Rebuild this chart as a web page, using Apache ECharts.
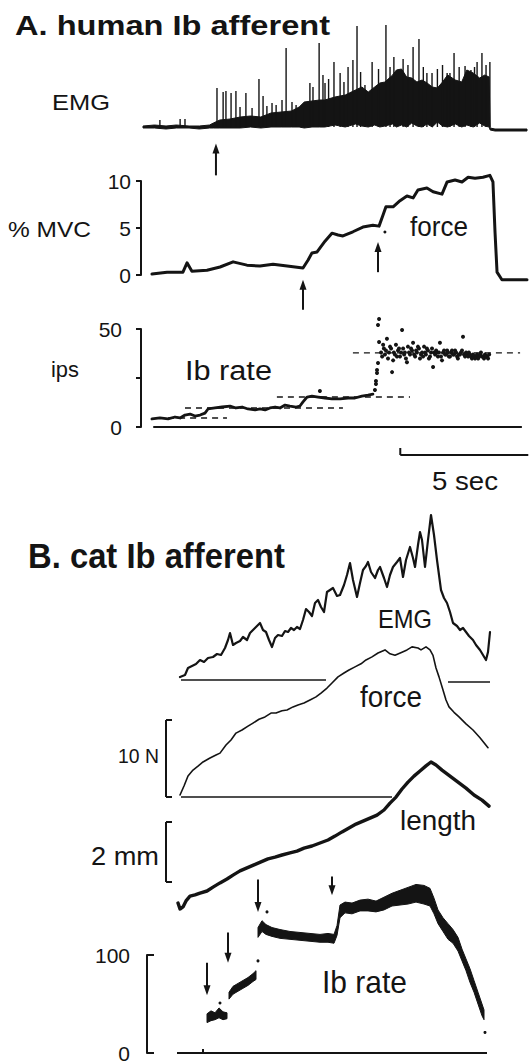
<!DOCTYPE html>
<html><head><meta charset="utf-8">
<script src="https://cdn.jsdelivr.net/npm/echarts@6/dist/echarts.min.js"></script>
<style>html,body{margin:0;padding:0;background:#fff}#c{width:530px;height:1063px}</style>
</head><body><div id="c"></div>
<script>
// ---------------- Panel A: human Ib afferent (time in s) ----------------
// EMG envelope [t, lower, upper] (arbitrary units above baseline)
const emgAEnvelope = [[0,-1,1],[0.45,-1,2],[0.9,-2,1],[1.3,-1,2],[1.8,-1,1],[2.2,-2,1],[2.6,-1,2],[2.75,-1,4],[3.0,-1,7],[3.4,-1,8],[3.8,-1,10],[4.2,0,11],[4.6,-1,10],[5.0,0,14],[5.4,0,15],[5.8,0,16],[6.1,0,20],[6.3,-1,25],[6.6,0,26],[6.9,0,27],[7.1,0,27],[7.5,2,30],[7.9,0,32],[8.3,3,37],[8.55,1,40],[8.8,0,35],[9.05,2,40],[9.25,0,44],[9.45,1,45],[9.75,3,52],[9.9,0,57],[10.1,2,58],[10.3,0,50],[10.5,4,49],[10.7,1,45],[10.9,0,47],[11.1,3,44],[11.3,0,40],[11.5,5,39],[11.7,1,45],[11.9,0,52],[12.2,3,47],[12.45,0,45],[12.65,2,57],[12.9,0,54],[13.15,4,49],[13.35,1,52],[13.52,0,50],[13.56,-3,-1],[13.75,-4,-2],[15.0,-4,-2]];
// EMG spikes [t, peak]
const emgASpikes = [[0.66,7],[1.45,8],[1.64,8],[2.89,39],[3.13,35],[3.24,36],[3.44,34],[3.63,36],[3.79,20],[4.02,34],[4.26,19],[4.53,48],[4.69,31],[4.84,21],[5.04,24],[5.2,22],[5.43,27],[5.59,79],[5.82,25],[5.98,22],[6.25,19],[6.52,44],[6.64,40],[6.88,84],[7.03,52],[7.11,44],[7.25,48],[7.46,65],[7.7,54],[7.85,45],[8.01,60],[8.2,67],[8.36,101],[8.5,55],[8.67,42],[8.95,65],[9.2,58],[9.49,102],[9.65,60],[9.8,70],[10.16,68],[10.35,62],[10.55,80],[10.78,88],[10.95,60],[11.09,54],[11.29,54],[11.5,58],[11.7,62],[11.88,54],[11.99,54],[12.15,74],[12.35,60],[12.58,61],[12.81,57],[12.95,60],[13.05,65],[13.24,74],[13.4,62],[13.55,65]];
// force, % MVC
const forceA = [[0.35,0.1],[0.94,0.3],[1.56,0.3],[1.72,1.3],[1.91,0.4],[2.5,0.5],[3.01,0.85],[3.52,1.4],[4.06,1.05],[4.57,0.95],[5.08,1.15],[5.63,0.95],[6.25,0.75],[6.45,1.6],[6.6,2.35],[6.8,2.45],[7.11,3.6],[7.38,4.45],[7.62,4.25],[7.81,4.15],[8.2,4.6],[8.59,5.1],[8.98,5.3],[9.22,5.2],[9.38,6.4],[9.49,7.25],[9.77,7.25],[10.04,7.9],[10.31,8.4],[10.55,8.2],[10.74,9.05],[11.09,9.25],[11.33,8.85],[11.68,8.6],[11.88,9.9],[12.19,10.1],[12.46,9.9],[12.7,10.4],[12.97,10.3],[13.28,10.4],[13.55,10.6],[13.67,9.9],[13.75,4.6],[13.83,0.3],[14.02,-0.5],[15.0,-0.5]];
const forceAMarks = [[9.45,4.57]];
// arrows [t, tail, tip] in % MVC units
const arrowsA = [[2.85,10.6,14.0],[6.25,-3.7,-0.5],[9.18,0.3,3.5]];
// Ib rate (ips)
const ipsLow = [[0.35,4.1],[0.66,4.6],[0.98,4.1],[1.25,5.1],[1.45,4.6],[1.64,6.1],[1.84,6.6],[2.03,5.6],[2.23,6.1],[2.42,7.1],[2.54,9.2],[2.81,9.7],[3.09,10.2],[3.4,10.7],[3.63,9.7],[3.87,10.2],[4.1,9.2],[4.38,8.7],[4.57,9.2],[4.77,8.7],[4.96,9.7],[5.16,10.2],[5.35,9.7],[5.55,11.2],[5.74,10.7],[5.98,10.2],[6.13,10.7],[6.25,12.8],[6.41,15.3],[6.6,15.8],[6.84,15.3],[7.11,14.8],[7.38,14.3],[7.7,14.3],[8.01,14.8],[8.28,14.8],[8.55,15.8],[8.79,16.3],[8.98,16.8]];
const ipsDots = [[6.91,18.4],[9.06,18.9],[9.1,21.9],[9.1,23.5],[9.14,27.6],[9.14,29.1],[9.18,32.7],[9.22,43.4],[9.18,52],[9.22,55.1],
[9.30,38],[9.34,36],[9.38,42],[9.41,40],[9.45,37],[9.49,39],[9.53,45],[9.57,35],[9.61,38],[9.65,41],[9.69,40],[9.73,28],[9.77,34],[9.8,38],[9.84,37],[9.88,42],[9.92,36],[9.96,39],[10.0,40],[10.04,36],[10.08,38],[10.12,49.5],[10.16,40],[10.2,37],[10.23,38],[10.27,35],[10.31,33],[10.35,41],[10.39,38],[10.43,37],[10.47,40],[10.51,39],[10.55,43],[10.59,37],[10.63,36],[10.67,39],[10.7,38],[10.74,41],[10.78,40],[10.82,35],[10.86,37],[10.9,38],[10.94,36],[10.98,41],[11.02,38],[11.05,37],[11.09,40],[11.13,39],[11.17,35],[11.21,36],[11.25,38],[11.29,40],[11.33,30.6],[11.37,38],[11.41,37],[11.45,39],[11.48,38],[11.52,36],[11.56,38],[11.6,43],[11.64,36],[11.68,34],[11.72,38],[11.76,39],[11.8,37],[11.84,37],[11.88,39],[11.91,38],[11.95,36],[11.99,36],[12.03,38],[12.07,39],[12.11,37],[12.15,37],[12.19,39],[12.23,38],[12.27,36],[12.3,35],[12.34,37],[12.38,37],[12.42,38],[12.46,39],[12.5,46],[12.54,37],[12.58,36],[12.62,38],[12.66,37],[12.7,36],[12.73,38],[12.77,37],[12.81,36],[12.85,35],[12.89,37],[12.93,36],[12.97,35],[13.01,36],[13.05,37],[13.09,35],[13.13,36],[13.17,37],[13.2,38],[13.24,36],[13.28,36],[13.32,35],[13.36,37],[13.4,36],[13.44,36],[13.48,35],[13.52,37]];
// mean-rate dashed levels [tStart, tEnd, ips]
const ipsMeans = [[0.55,3.28,4.6],[1.64,7.81,9.7],[5.23,10.43,15.3],[8.2,14.73,37.8]];
const ipsZeroLine = [[0.4,0,14.8,0]];
const timeBarA = [[10.05,-14.3,15.05,-14.3],[10.05,-14.3,10.05,-10.7]]; // 5 s
const forceATicks = [0,5,10];
const ipsTicks = [0,50];

// ---------------- Panel B: cat Ib afferent ----------------
const emgB = [[0.25,3],[0.5,5],[0.65,12],[0.85,14],[1.05,16],[1.25,20],[1.45,18],[1.65,22],[1.9,23],[2.1,26],[2.3,25],[2.5,32],[2.65,40],[2.75,47],[2.9,35],[3.05,37],[3.25,39],[3.4,43],[3.6,40],[3.75,47],[3.9,50],[4.05,53],[4.25,57],[4.4,50],[4.55,48],[4.7,40],[4.85,33],[5.0,42],[5.15,45],[5.35,44],[5.5,49],[5.65,48],[5.8,52],[5.95,50],[6.1,53],[6.25,51],[6.4,60],[6.55,71],[6.7,68],[6.85,64],[7.0,77],[7.15,80],[7.3,73],[7.45,68],[7.6,88],[7.75,90],[7.9,92],[8.1,84],[8.25,85],[8.45,95],[8.6,105],[8.75,117],[8.9,100],[9.1,83],[9.25,97],[9.4,110],[9.55,114],[9.65,118],[9.8,108],[10.0,102],[10.15,110],[10.25,113],[10.45,102],[10.6,93],[10.75,105],[10.9,113],[11.1,118],[11.25,122],[11.4,103],[11.55,120],[11.75,133],[11.9,122],[12.0,113],[12.15,135],[12.25,148],[12.35,140],[12.5,113],[12.65,140],[12.8,165],[12.95,145],[13.1,120],[13.3,90],[13.45,82],[13.6,77],[13.75,68],[13.9,57],[14.1,54],[14.25,50],[14.4,52],[14.55,48],[14.7,44],[14.9,40],[15.05,35],[15.25,30],[15.4,25],[15.55,20],[15.65,28],[15.75,48]];
const emgBBaseline = [[0.3,0,7.55,0],[13.65,-2,15.75,-2]];
const forceB = [[0.25,0.26],[0.45,1.43],[0.65,2.73],[0.9,3.5],[1.15,4.0],[1.4,4.55],[1.75,5.06],[2.05,5.45],[2.25,5.7],[2.55,6.75],[2.8,7.4],[3.05,8.3],[3.35,8.7],[3.65,9.2],[3.9,9.6],[4.2,10.1],[4.5,10.4],[4.8,10.9],[5.05,10.9],[5.35,11.2],[5.6,11.3],[5.9,11.7],[6.15,11.95],[6.45,12.2],[6.75,12.6],[7.05,13.0],[7.3,13.5],[7.6,14.15],[7.85,14.8],[8.15,15.6],[8.45,16.1],[8.7,16.5],[9.0,16.9],[9.3,17.3],[9.55,17.8],[9.85,18.2],[10.15,18.7],[10.5,19.1],[10.75,18.6],[11.0,18.4],[11.35,18.8],[11.6,19.1],[11.85,19.5],[12.15,19.35],[12.3,19.1],[12.55,19.5],[12.75,19.1],[12.9,18.4],[13.05,16.75],[13.2,15.6],[13.4,13.9],[13.55,12.6],[13.7,11.7],[13.95,11.0],[14.2,10.4],[14.55,9.5],[14.9,8.7],[15.25,7.7],[15.65,6.4]];
const forceBBaseline = [[0.3,0,10.85,0]];
const forceBScale = [[-0.45,0,-0.45,10],[-0.45,0,-0.15,0],[-0.45,10,-0.15,10]]; // 10 N
const lengthB = [[0.15,0.3],[0.25,0.1],[0.4,0.17],[0.55,0.37],[0.75,0.53],[1.0,0.57],[1.25,0.63],[1.6,0.7],[1.9,0.83],[2.25,0.97],[2.6,1.1],[2.9,1.23],[3.25,1.37],[3.6,1.47],[3.95,1.57],[4.3,1.67],[4.65,1.77],[5.0,1.83],[5.35,1.9],[5.75,1.97],[6.1,2.03],[6.45,2.13],[6.85,2.2],[7.25,2.3],[7.65,2.4],[8.0,2.53],[8.35,2.67],[8.7,2.8],[9.05,2.93],[9.4,3.03],[9.75,3.13],[10.1,3.23],[10.45,3.4],[10.75,3.63],[11.05,3.83],[11.35,4.1],[11.65,4.33],[11.95,4.53],[12.25,4.7],[12.55,4.87],[12.8,5.0],[13.05,4.9],[13.35,4.73],[13.75,4.53],[14.15,4.33],[14.55,4.13],[14.95,3.9],[15.35,3.73],[15.7,3.53]];
const lengthBScale = [[-0.45,1,-0.45,3],[-0.45,1,-0.15,1],[-0.45,3,-0.15,3]]; // 2 mm
// Ib rate bands [t, low, high] (imp/s)
const rateBSeg1 = [[1.6,31,40],[1.8,33,43],[2.0,34,41],[2.2,36,46],[2.4,34,42],[2.6,35,41]];
const rateBSeg2 = [[2.7,55,62],[2.9,60,68],[3.15,63,71],[3.4,66,74],[3.65,69,77],[3.9,73,81],[4.05,75,84]];
const rateBSeg3 = [[4.15,118,128],[4.35,124,135],[4.55,121,131],[4.85,119,128],[5.25,117,126],[5.75,116,124],[6.25,115,123],[6.75,114,122],[7.25,113,121],[7.65,113,122],[7.95,112,121],[8.1,120,130],[8.25,138,151],[8.5,143,154],[8.85,142,153],[9.25,145,156],[9.65,145,157],[10.05,144,155],[10.45,146,159],[10.85,150,163],[11.25,151,166],[11.65,152,169],[12.05,154,172],[12.45,152,171],[12.75,150,168],[12.95,142,158],[13.15,132,146],[13.4,124,138],[13.65,116,132],[13.9,112,126],[14.15,104,118],[14.35,94,106],[14.55,84,96],[14.75,72,86],[14.95,62,74],[15.15,50,62],[15.35,38,50],[15.45,34,44]];
const rateBDots = [[2.25,51],[4.15,94],[4.6,144],[15.5,21]];
const rateBBaseline = [[0.1,0,15.6,0],[1.4,0,1.4,4]];
const arrowsB = [[1.6,92,59],[2.65,123,92],[4.15,177,144],[7.85,180,161]];
const rateBTicks = [0,100];

// ---------------- rendering ----------------
const INK = '#141414';
const NUMFONT = "'Liberation Sans', Arial, sans-serif";
const LBLFONT = "'Liberation Sans', Arial, sans-serif";
const chart = echarts.init(document.getElementById('c'), null, {renderer: 'svg', width: 530, height: 1063});

const grids = [
  {left:143, width:384, top:20,  height:110},  // 0 EMG A
  {left:143, width:384, top:181, height:94},   // 1 force A
  {left:143, width:384, top:329, height:98},   // 2 ips A
  {left:175, width:320, top:500, height:180},  // 3 EMG B
  {left:175, width:320, top:643, height:154},  // 4 force B
  {left:175, width:320, top:732, height:180},  // 5 length B
  {left:175, width:320, top:955, height:98}    // 6 rate B
].map(g => Object.assign({outerBoundsMode:'none', containLabel:false}, g));

const xAxes = grids.map((g,i) => ({type:'value', gridIndex:i, min:0, max: i<3 ? 15 : 16, show:false}));
const hiddenY = (i,min,max) => ({type:'value', gridIndex:i, min, max, show:false});
const shownY = (i, min, max, ticks, interval, offset, inside, margin) => ({
  type:'value', gridIndex:i, min, max, interval,
  position:'left', offset,
  axisLine:{show:true, onZero:false, lineStyle:{color:INK, width:2}},
  axisTick:{show:true, inside, length: inside?7:5, lineStyle:{color:INK, width:2}},
  axisLabel:{show:true, color:INK, fontSize:21, fontFamily:NUMFONT, margin,
    formatter: v => ticks.indexOf(v) >= 0 ? String(v) : ''},
  splitLine:{show:false}
});
const yAxes = [
  hiddenY(0,-3,107),
  shownY(1,0,10,forceATicks,5,2,false,10),
  shownY(2,0,50,ipsTicks,25,2,false,19),
  hiddenY(3,0,180),
  hiddenY(4,0,20),
  hiddenY(5,0,6),
  shownY(6,0,100,rateBTicks,100,28,true,17)
];

function lineS(gi, pts, w) {
  return {type:'line', xAxisIndex:gi, yAxisIndex:gi, data:pts, symbol:'none', clip:false, silent:true,
    animation:false, lineStyle:{color:INK, width:w, join:'round', cap:'round', opacity:1}};
}
function scatterS(gi, pts, size) {
  return {type:'scatter', xAxisIndex:gi, yAxisIndex:gi, data:pts, symbol:'circle', symbolSize:size,
    clip:false, silent:true, animation:false, itemStyle:{color:INK, opacity:1}};
}
// filled band drawn as one polygon: upper edge forward, lower edge back
function bandS(gi, rows) {
  return {type:'custom', xAxisIndex:gi, yAxisIndex:gi, data:rows, clip:false, silent:true, animation:false,
    renderItem(params, api) {
      if (params.dataIndex !== 0) return null;
      const up = rows.map(r => api.coord([r[0], r[2]]));
      const lo = rows.slice().reverse().map(r => api.coord([r[0], r[1]]));
      return {type:'polygon', shape:{points: up.concat(lo)}, style:{fill:INK, stroke:INK, lineWidth:1, lineJoin:'round'}};
    }};
}
function spikeS(gi, rows, w) {
  return {type:'custom', xAxisIndex:gi, yAxisIndex:gi, data:rows, clip:false, silent:true, animation:false,
    renderItem(params, api) {
      const r = rows[params.dataIndex];
      const p0 = api.coord([r[0], 0]), p1 = api.coord([r[0], r[1]]);
      return {type:'line', shape:{x1:p0[0], y1:p0[1], x2:p1[0], y2:p1[1]}, style:{stroke:INK, lineWidth:w}};
    }};
}
function segS(gi, rows, w, dash) {
  return {type:'custom', xAxisIndex:gi, yAxisIndex:gi, data:rows, clip:false, silent:true, animation:false,
    renderItem(params, api) {
      const r = rows[params.dataIndex];
      const p0 = api.coord([r[0], r[1]]), p1 = api.coord([r[2], r[3]]);
      return {type:'line', shape:{x1:p0[0], y1:p0[1], x2:p1[0], y2:p1[1]},
        style:{stroke:INK, lineWidth:w, lineDash: dash || null}};
    }};
}
function dashS(gi, rows, w) {
  return segS(gi, rows.map(r => [r[0], r[2], r[1], r[2]]), w, [6,5]);
}
function arrowS(gi, rows) {
  return {type:'custom', xAxisIndex:gi, yAxisIndex:gi, data:rows, clip:false, silent:true, animation:false,
    renderItem(params, api) {
      const r = rows[params.dataIndex];
      const p0 = api.coord([r[0], r[1]]), p1 = api.coord([r[0], r[2]]);
      const dir = p1[1] > p0[1] ? 1 : -1, hl = 10, hw = 3.5;
      return {type:'group', children:[
        {type:'line', shape:{x1:p0[0], y1:p0[1], x2:p1[0], y2:p1[1] - dir*hl*0.6}, style:{stroke:INK, lineWidth:2}},
        {type:'polygon', shape:{points:[[p1[0], p1[1]], [p1[0]-hw, p1[1]-dir*hl], [p1[0]+hw, p1[1]-dir*hl]]}, style:{fill:INK}}
      ]};
    }};
}

const series = [
  // A
  bandS(0, emgAEnvelope),
  spikeS(0, emgASpikes, 1.4),
  lineS(1, forceA, 3),
  scatterS(1, forceAMarks, 3),
  arrowS(1, arrowsA),
  segS(2, ipsZeroLine, 2),
  dashS(2, ipsMeans, 1.4),
  lineS(2, ipsLow, 2.8),
  scatterS(2, ipsDots, 4),
  segS(2, timeBarA, 2),
  // B
  lineS(3, emgB, 2.2),
  segS(3, emgBBaseline, 1.6),
  lineS(4, forceB, 1.6),
  segS(4, forceBBaseline, 1.6),
  segS(4, forceBScale, 2),
  lineS(5, lengthB, 3.4),
  segS(5, lengthBScale, 2),
  bandS(6, rateBSeg1),
  bandS(6, rateBSeg2),
  bandS(6, rateBSeg3),
  scatterS(6, rateBDots, 3),
  segS(6, rateBBaseline, 2),
  arrowS(6, arrowsB)
];

// text labels: [text, left, right, centerY, fontSize, bold]
const labelLayout = [
  ['A. human Ib afferent', 15, 330, 25, 28, true],
  ['EMG', 52, 110, 102, 22, false],
  ['% MVC', 8, 91, 229, 22, false],
  ['force', 410, 468, 227, 27, false],
  ['ips', 51, 79, 369, 22, false],
  ['Ib rate', 185, 272, 370, 28, false],
  ['5 sec', 432, 498, 481, 25, false],
  ['B. cat Ib afferent', 28, 285, 556, 35, true],
  ['EMG', 378, 432, 619, 25, false],
  ['force', 360, 422, 697, 29, false],
  ['10 N', 118, 159, 756, 21, false],
  ['length', 400, 476, 820, 28, false],
  ['2 mm', 91, 159, 856, 25, false],
  ['Ib rate', 322, 407, 982, 31, false]
];
const mctx = document.createElement('canvas').getContext('2d');
const graphic = labelLayout.map(([text, l, r, cy, size, bold]) => {
  mctx.font = (bold ? 'bold ' : '') + size + 'px ' + LBLFONT;
  const w = mctx.measureText(text).width || 1;
  return {type:'text', x:l, y:cy, scaleX:(r-l)/w, silent:true,
    style:{text, fontSize:size, fontFamily:LBLFONT, fontWeight: bold ? 'bold' : 'normal', fill:INK,
      textAlign:'left', textVerticalAlign:'middle', align:'left', verticalAlign:'middle'}};
});

chart.setOption({
  animation:false,
  backgroundColor:'#fff',
  grid: grids, xAxis: xAxes, yAxis: yAxes, series, graphic
});
</script></body></html>
